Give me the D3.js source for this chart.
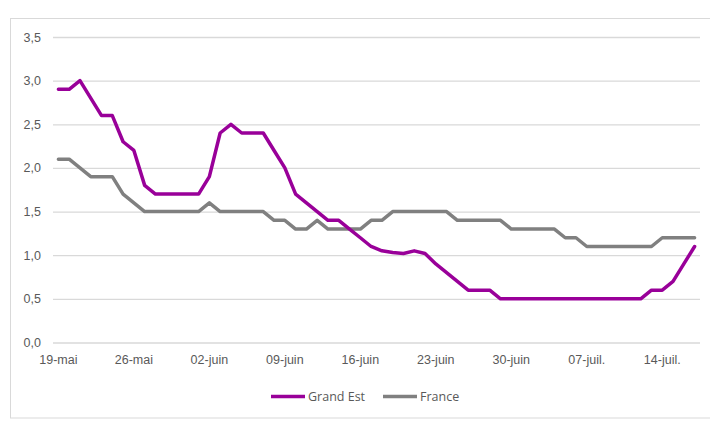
<!DOCTYPE html>
<html>
<head>
<meta charset="utf-8">
<script src="https://cdn.jsdelivr.net/npm/d3@7"></script>
<style>
  html, body { margin: 0; padding: 0; background: #fff; }
  svg { display: block; font-family: "Open Sans", "Noto Sans", sans-serif; }
</style>
</head>
<body>
<svg id="chart" width="710" height="421"></svg>
<script>
// ---- data ----
const startDate = new Date(2020, 4, 19);
const endDate = new Date(2020, 6, 18);
const categories = d3.timeDay.range(startDate, endDate); // 19 mai -> 17 juil. (60 days)

const grandEst = [
  2.9, 2.9, 3.0, 2.8, 2.6, 2.6, 2.3, 2.2, 1.8, 1.7,
  1.7, 1.7, 1.7, 1.7, 1.9, 2.4, 2.5, 2.4, 2.4, 2.4,
  2.2, 2.0, 1.7, 1.6, 1.5, 1.4, 1.4, 1.3, 1.2, 1.1,
  1.05, 1.03, 1.02, 1.05, 1.02, 0.9, 0.8, 0.7, 0.6, 0.6,
  0.6, 0.5, 0.5, 0.5, 0.5, 0.5, 0.5, 0.5, 0.5, 0.5,
  0.5, 0.5, 0.5, 0.5, 0.5, 0.6, 0.6, 0.7, 0.9, 1.1
];
const france = [
  2.1, 2.1, 2.0, 1.9, 1.9, 1.9, 1.7, 1.6, 1.5, 1.5,
  1.5, 1.5, 1.5, 1.5, 1.6, 1.5, 1.5, 1.5, 1.5, 1.5,
  1.4, 1.4, 1.3, 1.3, 1.4, 1.3, 1.3, 1.3, 1.3, 1.4,
  1.4, 1.5, 1.5, 1.5, 1.5, 1.5, 1.5, 1.4, 1.4, 1.4,
  1.4, 1.4, 1.3, 1.3, 1.3, 1.3, 1.3, 1.2, 1.2, 1.1,
  1.1, 1.1, 1.1, 1.1, 1.1, 1.1, 1.2, 1.2, 1.2, 1.2
];
const seriesNames = ["Grand Est", "France"];
const seriesColors = ["#990099", "#808080"];
const yTicks = [0, 0.5, 1, 1.5, 2, 2.5, 3, 3.5];
const xTickLabels = ["19-mai", "26-mai", "02-juin", "09-juin", "16-juin", "23-juin", "30-juin", "07-juil.", "14-juil."];
const xTickEvery = 7;

// ---- layout ----
const svg = d3.select("#chart");
const plot = { left: 53, right: 700, top: 37, bottom: 342.5 };
const fontSize = "12.5px";

// outer frame
svg.append("rect")
  .attr("x", 10.5).attr("y", 18.5)
  .attr("width", 710).attr("height", 399.5)
  .attr("fill", "none").attr("stroke", "#d9d9d9").attr("stroke-width", 1);

const x = d3.scaleBand()
  .domain(d3.range(categories.length))
  .range([plot.left, plot.right])
  .paddingInner(0).paddingOuter(0);
const xc = i => x(i) + x.bandwidth() / 2;

const y = d3.scaleLinear().domain([0, 3.5]).range([plot.bottom, plot.top]);

// gridlines + y labels
const yAxis = d3.axisLeft(y)
  .tickValues(yTicks)
  .tickSize(-(plot.right - plot.left))
  .tickPadding(12)
  .tickFormat(d => d3.format(".1f")(d).replace(".", ","));
const gy = svg.append("g")
  .attr("transform", `translate(${plot.left},0)`)
  .call(yAxis);
gy.select(".domain").remove();
gy.selectAll(".tick line").attr("stroke", "#d9d9d9").attr("stroke-width", 1.3);
gy.selectAll(".tick text")
  .attr("fill", "#595959")
  .style("font-size", fontSize);

// x labels
const tickIdx = d3.range(0, categories.length, xTickEvery);
const xAxis = d3.axisBottom(x)
  .tickValues(tickIdx)
  .tickSize(0)
  .tickPadding(13)
  .tickFormat((d, i) => xTickLabels[i]);
const gx = svg.append("g")
  .attr("transform", `translate(0,${plot.bottom})`)
  .call(xAxis);
gx.select(".domain").remove();
gx.selectAll(".tick text")
  .attr("fill", "#595959")
  .style("font-size", fontSize);

// lines
const line = d3.line()
  .x((d, i) => xc(i))
  .y(d => y(d))
  .curve(d3.curveLinear);

[grandEst, france].slice().reverse().forEach((s, k) => {
  const idx = 1 - k;
  svg.append("path")
    .datum(s)
    .attr("d", line)
    .attr("fill", "none")
    .attr("stroke", seriesColors[idx])
    .attr("stroke-width", 3.5)
    .attr("stroke-linejoin", "round")
    .attr("stroke-linecap", "round");
});

// legend
const legendItems = [
  { name: seriesNames[0], color: seriesColors[0], x0: 271, x1: 305 },
  { name: seriesNames[1], color: seriesColors[1], x0: 383, x1: 417 }
];
const lg = svg.append("g");
legendItems.forEach(it => {
  lg.append("line")
    .attr("x1", it.x0).attr("x2", it.x1)
    .attr("y1", 396.5).attr("y2", 396.5)
    .attr("stroke", it.color).attr("stroke-width", 3.5);
  lg.append("text")
    .attr("x", it.x1 + 3).attr("y", 401)
    .attr("fill", "#595959")
    .style("font-size", fontSize)
    .text(it.name);
});
</script>
</body>
</html>
